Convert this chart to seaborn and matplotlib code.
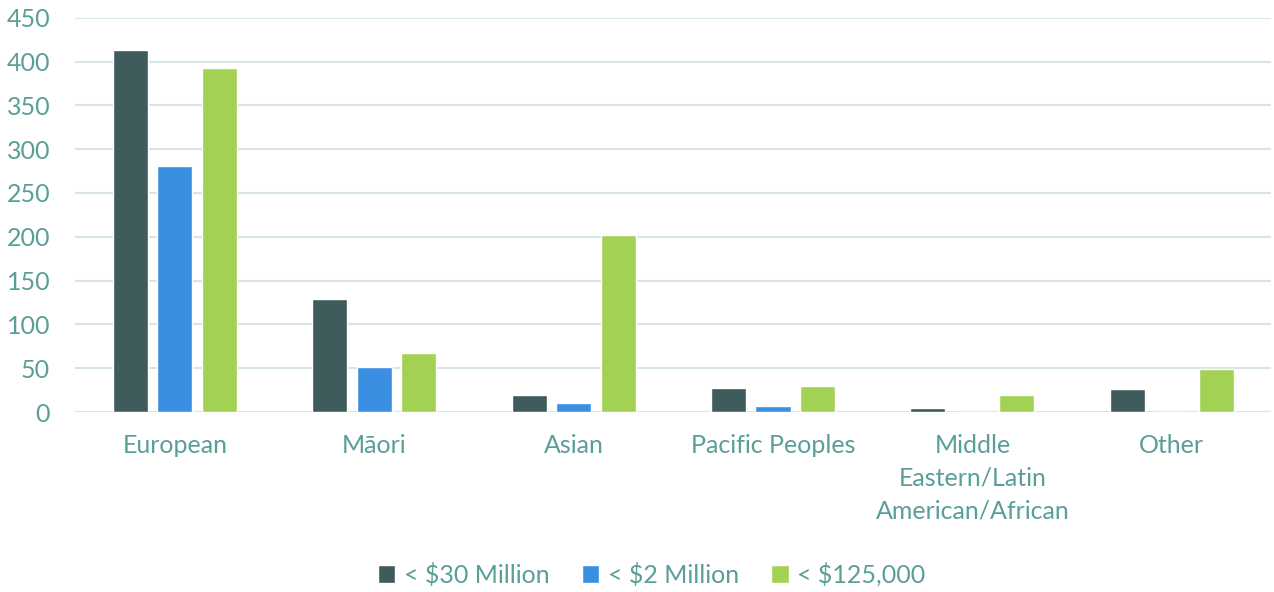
import matplotlib
matplotlib.use('Agg')
import matplotlib.pyplot as plt
import seaborn as sns
import pandas as pd

categories = ['European', 'Māori', 'Asian', 'Pacific Peoples',
              'Middle\nEastern/Latin\nAmerican/African', 'Other']
series_names = ['< $30 Million', '< $2 Million', '< $125,000']
under_30m = [413, 129, 20, 27, 5, 26]
under_2m = [281, 51, 10, 7, 0, 0]
under_125k = [393, 67, 202, 30, 20, 49]
y_ticks = [0, 50, 100, 150, 200, 250, 300, 350, 400, 450]

colors = ['#3F5B5B', '#3B8FE3', '#A2D154']
text_color = '#5A9E98'
grid_color = '#D6E6E4'

rows = []
for name, vals in zip(series_names, [under_30m, under_2m, under_125k]):
    for cat, v in zip(categories, vals):
        rows.append({'category': cat, 'series': name, 'value': v})
df = pd.DataFrame(rows)

sns.set_style('white')
plt.rcParams['font.family'] = ['Lato', 'DejaVu Sans']

fig = plt.figure(figsize=(12.74, 5.92), dpi=100)
ax = fig.add_axes([0.059, 0.304, 0.939, 0.666])

sns.barplot(data=df, x='category', y='value', hue='series',
            hue_order=series_names, order=categories, palette=colors,
            width=0.67, gap=0.21, saturation=1, ax=ax, errorbar=None,
            zorder=3)

ax.set_ylim(0, 450)
ax.set_yticks(y_ticks)
ax.set_xlim(-0.5, len(categories) - 0.5)
ax.yaxis.grid(True, color=grid_color, linewidth=1.5, zorder=0)
ax.set_axisbelow(True)
for s in ax.spines.values():
    s.set_visible(False)
ax.set_xlabel('')
ax.set_ylabel('')
ax.tick_params(axis='both', length=0, colors=text_color, labelsize=18)
ax.tick_params(axis='x', pad=16)
ax.tick_params(axis='y', pad=18)
for lbl in ax.get_xticklabels():
    lbl.set_linespacing(1.5)

handles, labels = ax.get_legend_handles_labels()
ax.legend(handles, labels, loc='center', bbox_to_anchor=(0.482, -0.412),
          ncol=3, frameon=False, fontsize=18, labelcolor=text_color,
          handlelength=0.7, handleheight=0.7, handletextpad=0.35,
          columnspacing=1.28)

fig.savefig('out.png', dpi=100)
